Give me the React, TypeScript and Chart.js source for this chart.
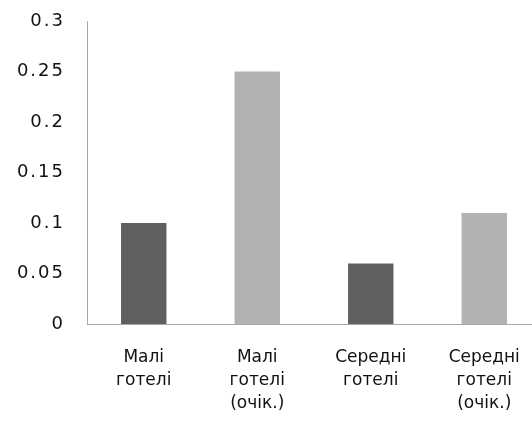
import React, { useEffect, useRef } from "react";
import { Chart, registerables } from "chart.js";

Chart.register(...registerables);

const categories: string[][] = [
  ["Малі", "готелі"],
  ["Малі", "готелі", "(очік.)"],
  ["Середні", "готелі"],
  ["Середні", "готелі", "(очік.)"],
];
const values: number[] = [0.1, 0.25, 0.06, 0.11];
const barColors: string[] = ["#606060", "#b2b2b2", "#606060", "#b2b2b2"];
const yTicks: number[] = [0, 0.05, 0.1, 0.15, 0.2, 0.25, 0.3];

export default function App() {
  const ref = useRef<HTMLCanvasElement | null>(null);
  useEffect(() => {
    document.body.style.margin = "0";
    document.documentElement.style.overflow = "hidden";
    const font = { family: "'DejaVu Sans', Verdana, sans-serif", size: 17, lineHeight: 1.35 };
    const yFont = { family: "'DejaVu Sans', Verdana, sans-serif", size: 18, lineHeight: 1.2 };
    const chart = new Chart(ref.current!, {
      type: "bar",
      data: {
        labels: categories,
        datasets: [
          {
            data: values,
            backgroundColor: barColors,
            barPercentage: 0.4,
            categoryPercentage: 1,
          },
        ],
      },
      options: {
        animation: false,
        responsive: false,
        devicePixelRatio: 1,
        layout: { padding: { top: 21, left: 0, right: 0, bottom: 0 } },
        plugins: { legend: { display: false }, tooltip: { enabled: false } },
        scales: {
          x: {
            grid: { display: false, drawTicks: false },
            border: { display: true, color: "#a6a6a6", width: 1 },
            ticks: { color: "#111", font, padding: 22, maxRotation: 0, autoSkip: false },
            afterFit: (s: any) => {
              s.height = 97;
              s.paddingLeft = 0;
              s.paddingRight = 0;
            },
          },
          y: {
            min: 0,
            max: 0.3,
            grid: { display: false, drawTicks: false },
            border: { display: true, color: "#a6a6a6", width: 1 },
            afterBuildTicks: (s: any) => {
              s.ticks = yTicks.map((v) => ({ value: v }));
            },
            ticks: {
              color: "#111",
              font: yFont,
              padding: 22,
              callback: (v: any) => String(Number(v)),
            },
            afterFit: (s: any) => {
              s.width = 87;
              s.paddingTop = 0;
              s.paddingBottom = 0;
            },
          },
        },
      },
    });
    const ys: any = chart.scales.y;
    const orig = ys.drawLabels.bind(ys);
    ys.drawLabels = (area: any) => {
      const ctx: any = chart.ctx;
      ctx.save();
      ctx.letterSpacing = "2px";
      orig(area);
      ctx.restore();
    };
    chart.draw();
    return () => chart.destroy();
  }, []);
  return (
    <div style={{ width: 532, height: 421, overflow: "hidden" }}>
      <canvas ref={ref} width={541} height={421} style={{ display: "block", width: 541, height: 421 }} />
    </div>
  );
}
